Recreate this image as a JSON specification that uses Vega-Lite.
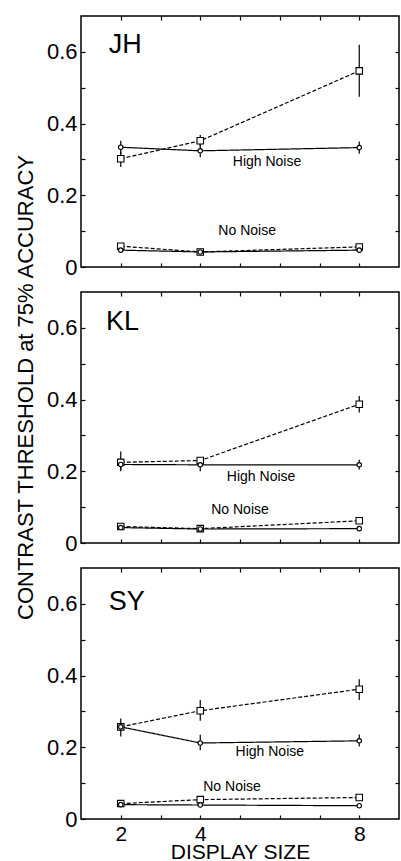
{
  "$schema": "https://vega.github.io/schema/vega-lite/v6.json",
  "padding": {"left": 13, "top": 14, "right": 0, "bottom": 0},
  "background": "white",
  "spacing": 25,
  "bounds": "flush",
  "config": {
    "font": "Liberation Sans",
    "view": {"stroke": "black", "strokeWidth": 1.5},
    "axis": {"domain": false, "grid": false, "tickColor": "black", "tickSize": -4, "tickWidth": 1.2, "labelColor": "black", "labelFontSize": 22, "labelFont": "Liberation Sans", "titleFont": "Liberation Sans", "titleFontWeight": "normal", "titleColor": "black"}
  },
  "datasets": {
    "JH": [
      {"size": 2, "noise": "High", "cond": "A", "thr": 0.302, "lo": 0.279, "hi": 0.322},
      {"size": 4, "noise": "High", "cond": "A", "thr": 0.352, "lo": 0.336, "hi": 0.368},
      {"size": 8, "noise": "High", "cond": "A", "thr": 0.547, "lo": 0.475, "hi": 0.62},
      {"size": 2, "noise": "High", "cond": "B", "thr": 0.334, "lo": 0.316, "hi": 0.352},
      {"size": 4, "noise": "High", "cond": "B", "thr": 0.324, "lo": 0.306, "hi": 0.342},
      {"size": 8, "noise": "High", "cond": "B", "thr": 0.333, "lo": 0.316, "hi": 0.35},
      {"size": 2, "noise": "No", "cond": "A", "thr": 0.058, "lo": 0.054, "hi": 0.062},
      {"size": 4, "noise": "No", "cond": "A", "thr": 0.042, "lo": 0.039, "hi": 0.045},
      {"size": 8, "noise": "No", "cond": "A", "thr": 0.056, "lo": 0.052, "hi": 0.06},
      {"size": 2, "noise": "No", "cond": "B", "thr": 0.047, "lo": 0.044, "hi": 0.05},
      {"size": 4, "noise": "No", "cond": "B", "thr": 0.042, "lo": 0.039, "hi": 0.045},
      {"size": 8, "noise": "No", "cond": "B", "thr": 0.047, "lo": 0.044, "hi": 0.05}
    ],
    "KL": [
      {"size": 2, "noise": "High", "cond": "A", "thr": 0.225, "lo": 0.2, "hi": 0.255},
      {"size": 4, "noise": "High", "cond": "A", "thr": 0.23, "lo": 0.222, "hi": 0.238},
      {"size": 8, "noise": "High", "cond": "A", "thr": 0.387, "lo": 0.364, "hi": 0.41},
      {"size": 2, "noise": "High", "cond": "B", "thr": 0.219, "lo": 0.205, "hi": 0.232},
      {"size": 4, "noise": "High", "cond": "B", "thr": 0.218, "lo": 0.2, "hi": 0.232},
      {"size": 8, "noise": "High", "cond": "B", "thr": 0.218, "lo": 0.205, "hi": 0.232},
      {"size": 2, "noise": "No", "cond": "A", "thr": 0.046, "lo": 0.043, "hi": 0.049},
      {"size": 4, "noise": "No", "cond": "A", "thr": 0.04, "lo": 0.037, "hi": 0.043},
      {"size": 8, "noise": "No", "cond": "A", "thr": 0.062, "lo": 0.058, "hi": 0.066},
      {"size": 2, "noise": "No", "cond": "B", "thr": 0.043, "lo": 0.04, "hi": 0.046},
      {"size": 4, "noise": "No", "cond": "B", "thr": 0.039, "lo": 0.036, "hi": 0.042},
      {"size": 8, "noise": "No", "cond": "B", "thr": 0.04, "lo": 0.037, "hi": 0.043}
    ],
    "SY": [
      {"size": 2, "noise": "High", "cond": "A", "thr": 0.257, "lo": 0.23, "hi": 0.28},
      {"size": 4, "noise": "High", "cond": "A", "thr": 0.302, "lo": 0.274, "hi": 0.332},
      {"size": 8, "noise": "High", "cond": "A", "thr": 0.362, "lo": 0.332, "hi": 0.39},
      {"size": 2, "noise": "High", "cond": "B", "thr": 0.257, "lo": 0.245, "hi": 0.268},
      {"size": 4, "noise": "High", "cond": "B", "thr": 0.212, "lo": 0.192, "hi": 0.235},
      {"size": 8, "noise": "High", "cond": "B", "thr": 0.218, "lo": 0.202, "hi": 0.236},
      {"size": 2, "noise": "No", "cond": "A", "thr": 0.043, "lo": 0.04, "hi": 0.046},
      {"size": 4, "noise": "No", "cond": "A", "thr": 0.054, "lo": 0.048, "hi": 0.06},
      {"size": 8, "noise": "No", "cond": "A", "thr": 0.06, "lo": 0.056, "hi": 0.064},
      {"size": 2, "noise": "No", "cond": "B", "thr": 0.04, "lo": 0.037, "hi": 0.043},
      {"size": 4, "noise": "No", "cond": "B", "thr": 0.039, "lo": 0.036, "hi": 0.042},
      {"size": 8, "noise": "No", "cond": "B", "thr": 0.037, "lo": 0.034, "hi": 0.04}
    ]
  },
  "vconcat": [
    {
      "width": 318, "height": 251,
      "data": {"name": "JH"},
      "resolve": {"axis": {"x": "independent", "y": "independent"}},
      "layer": [
        {"mark": {"type": "rule", "color": "black", "strokeWidth": 1.2},
         "encoding": {
           "x": {"field": "size", "type": "quantitative", "scale": {"domain": [1, 9], "nice": false, "zero": false}, "axis": {"orient": "bottom", "values": [2,3,4,5,6,7,8], "labels": false, "title": null}},
           "y": {"field": "lo", "type": "quantitative", "scale": {"domain": [0, 0.7], "nice": false}, "axis": {"orient": "left", "values": [0,0.1,0.2,0.3,0.4,0.5,0.6], "labelPadding": 8, "labelExpr": "datum.value == 0 ? '0' : (round(datum.value*10) % 2 == 0 ? format(datum.value, '.1f') : '')", "title": null}},
           "y2": {"field": "hi"}
         }},
        {"mark": {"type": "line", "color": "black", "strokeWidth": 1.2},
         "encoding": {
           "x": {"field": "size", "type": "quantitative", "axis": {"orient": "top", "values": [2,3,4,5,6,7,8], "labels": false, "title": null}},
           "y": {"field": "thr", "type": "quantitative", "axis": {"orient": "right", "values": [0.1,0.2,0.3,0.4,0.5,0.6], "labels": false, "title": null}},
           "strokeDash": {"field": "cond", "type": "nominal", "scale": {"domain": ["A", "B"], "range": [[4, 2], [1, 0]]}, "legend": null},
           "detail": {"field": "noise"}
         }},
        {"mark": {"type": "point", "filled": true, "fill": "white", "stroke": "black", "strokeWidth": 1.1, "opacity": 1},
         "encoding": {
           "x": {"field": "size", "type": "quantitative", "axis": null},
           "y": {"field": "thr", "type": "quantitative", "axis": null},
           "shape": {"field": "cond", "type": "nominal", "scale": {"domain": ["A", "B"], "range": ["square", "circle"]}, "legend": null},
           "size": {"field": "cond", "type": "nominal", "scale": {"domain": ["A", "B"], "range": [42, 20]}, "legend": null}
         }},
        {"data": {"values": [{}]},
         "mark": {"type": "text", "fontSize": 27, "align": "left", "baseline": "alphabetic", "color": "black"},
         "encoding": {"x": {"datum": 1.7, "type": "quantitative", "axis": null}, "y": {"datum": 0.597, "type": "quantitative", "axis": null}, "text": {"value": "JH"}}},
        {"data": {"values": [{}]},
         "mark": {"type": "text", "fontSize": 14, "align": "center", "baseline": "alphabetic", "color": "black"},
         "encoding": {"x": {"datum": 5.68, "type": "quantitative", "axis": null}, "y": {"datum": 0.283, "type": "quantitative", "axis": null}, "text": {"value": "High Noise"}}},
        {"data": {"values": [{}]},
         "mark": {"type": "text", "fontSize": 14, "align": "center", "baseline": "alphabetic", "color": "black"},
         "encoding": {"x": {"datum": 5.18, "type": "quantitative", "axis": null}, "y": {"datum": 0.089, "type": "quantitative", "axis": null}, "text": {"value": "No Noise"}}}
      ]
    },
    {
      "width": 318, "height": 251,
      "data": {"name": "KL"},
      "resolve": {"axis": {"x": "independent", "y": "independent"}},
      "layer": [
        {"mark": {"type": "rule", "color": "black", "strokeWidth": 1.2},
         "encoding": {
           "x": {"field": "size", "type": "quantitative", "scale": {"domain": [1, 9], "nice": false, "zero": false}, "axis": {"orient": "bottom", "values": [2,3,4,5,6,7,8], "labels": false, "title": null}},
           "y": {"field": "lo", "type": "quantitative", "scale": {"domain": [0, 0.7], "nice": false}, "axis": {"orient": "left", "values": [0,0.1,0.2,0.3,0.4,0.5,0.6], "labelPadding": 8, "labelExpr": "datum.value == 0 ? '0' : (round(datum.value*10) % 2 == 0 ? format(datum.value, '.1f') : '')", "title": "CONTRAST THRESHOLD at 75% ACCURACY", "titleFontSize": 22, "titleX": -49, "titleY": 95, "titleBaseline": "alphabetic", "titleAngle": 270}},
           "y2": {"field": "hi"}
         }},
        {"mark": {"type": "line", "color": "black", "strokeWidth": 1.2},
         "encoding": {
           "x": {"field": "size", "type": "quantitative", "axis": {"orient": "top", "values": [2,3,4,5,6,7,8], "labels": false, "title": null}},
           "y": {"field": "thr", "type": "quantitative", "axis": {"orient": "right", "values": [0.1,0.2,0.3,0.4,0.5,0.6], "labels": false, "title": null}},
           "strokeDash": {"field": "cond", "type": "nominal", "scale": {"domain": ["A", "B"], "range": [[4, 2], [1, 0]]}, "legend": null},
           "detail": {"field": "noise"}
         }},
        {"mark": {"type": "point", "filled": true, "fill": "white", "stroke": "black", "strokeWidth": 1.1, "opacity": 1},
         "encoding": {
           "x": {"field": "size", "type": "quantitative", "axis": null},
           "y": {"field": "thr", "type": "quantitative", "axis": null},
           "shape": {"field": "cond", "type": "nominal", "scale": {"domain": ["A", "B"], "range": ["square", "circle"]}, "legend": null},
           "size": {"field": "cond", "type": "nominal", "scale": {"domain": ["A", "B"], "range": [42, 20]}, "legend": null}
         }},
        {"data": {"values": [{}]},
         "mark": {"type": "text", "fontSize": 27, "align": "left", "baseline": "alphabetic", "color": "black"},
         "encoding": {"x": {"datum": 1.63, "type": "quantitative", "axis": null}, "y": {"datum": 0.594, "type": "quantitative", "axis": null}, "text": {"value": "KL"}}},
        {"data": {"values": [{}]},
         "mark": {"type": "text", "fontSize": 14, "align": "center", "baseline": "alphabetic", "color": "black"},
         "encoding": {"x": {"datum": 5.53, "type": "quantitative", "axis": null}, "y": {"datum": 0.172, "type": "quantitative", "axis": null}, "text": {"value": "High Noise"}}},
        {"data": {"values": [{}]},
         "mark": {"type": "text", "fontSize": 14, "align": "center", "baseline": "alphabetic", "color": "black"},
         "encoding": {"x": {"datum": 5.0, "type": "quantitative", "axis": null}, "y": {"datum": 0.08, "type": "quantitative", "axis": null}, "text": {"value": "No Noise"}}}
      ]
    },
    {
      "width": 318, "height": 251,
      "data": {"name": "SY"},
      "resolve": {"axis": {"x": "independent", "y": "independent"}},
      "layer": [
        {"mark": {"type": "rule", "color": "black", "strokeWidth": 1.2},
         "encoding": {
           "x": {"field": "size", "type": "quantitative", "scale": {"domain": [1, 9], "nice": false, "zero": false}, "axis": {"orient": "bottom", "values": [2,3,4,5,6,7,8], "labelPadding": 8, "labelFontSize": 21, "labelExpr": "indexof([2,4,8], datum.value) >= 0 ? datum.label : ''", "title": "DISPLAY SIZE", "titleFontSize": 21, "titlePadding": -3}},
           "y": {"field": "lo", "type": "quantitative", "scale": {"domain": [0, 0.7], "nice": false}, "axis": {"orient": "left", "values": [0,0.1,0.2,0.3,0.4,0.5,0.6], "labelPadding": 8, "labelExpr": "datum.value == 0 ? '0' : (round(datum.value*10) % 2 == 0 ? format(datum.value, '.1f') : '')", "title": null}},
           "y2": {"field": "hi"}
         }},
        {"mark": {"type": "line", "color": "black", "strokeWidth": 1.2},
         "encoding": {
           "x": {"field": "size", "type": "quantitative", "axis": {"orient": "top", "values": [2,3,4,5,6,7,8], "labels": false, "title": null}},
           "y": {"field": "thr", "type": "quantitative", "axis": {"orient": "right", "values": [0.1,0.2,0.3,0.4,0.5,0.6], "labels": false, "title": null}},
           "strokeDash": {"field": "cond", "type": "nominal", "scale": {"domain": ["A", "B"], "range": [[4, 2], [1, 0]]}, "legend": null},
           "detail": {"field": "noise"}
         }},
        {"mark": {"type": "point", "filled": true, "fill": "white", "stroke": "black", "strokeWidth": 1.1, "opacity": 1},
         "encoding": {
           "x": {"field": "size", "type": "quantitative", "axis": null},
           "y": {"field": "thr", "type": "quantitative", "axis": null},
           "shape": {"field": "cond", "type": "nominal", "scale": {"domain": ["A", "B"], "range": ["square", "circle"]}, "legend": null},
           "size": {"field": "cond", "type": "nominal", "scale": {"domain": ["A", "B"], "range": [42, 20]}, "legend": null}
         }},
        {"data": {"values": [{}]},
         "mark": {"type": "text", "fontSize": 27, "align": "left", "baseline": "alphabetic", "color": "black"},
         "encoding": {"x": {"datum": 1.7, "type": "quantitative", "axis": null}, "y": {"datum": 0.583, "type": "quantitative", "axis": null}, "text": {"value": "SY"}}},
        {"data": {"values": [{}]},
         "mark": {"type": "text", "fontSize": 14, "align": "center", "baseline": "alphabetic", "color": "black"},
         "encoding": {"x": {"datum": 5.75, "type": "quantitative", "axis": null}, "y": {"datum": 0.175, "type": "quantitative", "axis": null}, "text": {"value": "High Noise"}}},
        {"data": {"values": [{}]},
         "mark": {"type": "text", "fontSize": 14, "align": "center", "baseline": "alphabetic", "color": "black"},
         "encoding": {"x": {"datum": 4.8, "type": "quantitative", "axis": null}, "y": {"datum": 0.078, "type": "quantitative", "axis": null}, "text": {"value": "No Noise"}}}
      ]
    }
  ]
}
